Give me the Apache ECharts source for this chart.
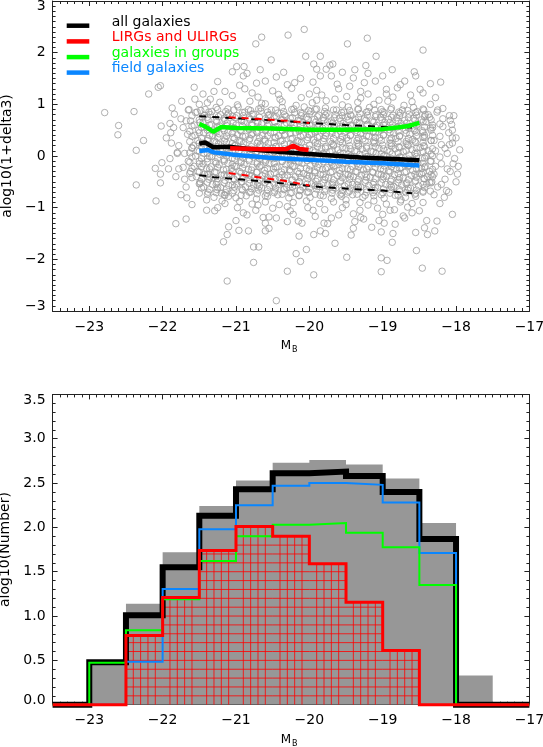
<!DOCTYPE html>
<html>
<head>
<meta charset="utf-8">
<script src="https://cdn.jsdelivr.net/npm/echarts@6/dist/echarts.min.js"></script>
<style>html,body{margin:0;padding:0;background:#fff}#main{width:543px;height:747px}</style>
</head>
<body>
<div id="main"></div>
<script>
var FONT = 'DejaVu Sans';

// ---- top panel: density vs M_B ----
var outlierPts = [
  [-22.79,0.84],[-22.6,0.59],[-22.61,0.41],[-22.39,0.86],[-22.36,0.11],[-22.26,0.3],[-22.36,-0.56],[-22.19,1.2],
  [-22.06,1.33],[-22.03,1.36],[-22.09,-0.87],[-22.02,0.58],[-22.1,-0.24],[-22.03,-0.35],[-22.01,-0.13],[-22.03,-0.52],
  [-21.87,0.93],[-21.84,0.81],[-21.9,0.63],[-21.89,0.45],[-21.82,-1.31],[-21.68,-1.22],[-21.74,1.06],[-21.57,1.33],
  [-21.6,-0.94],[-21.67,-0.81],[-21.78,-0.25],[-21.8,0.07],[-21.65,0.89],[-21.56,1.1],[-21.53,0.85],[-21.39,1.03],
  [-21.25,1.44],[-21.29,-1.06],[-21.12,-2.42],[-21.17,-1.66],[-21.12,-1.52],[-21.1,-1.37],[-21.2,-0.72],[-21.37,-0.35],
  [-21.49,-0.53],[-21.05,1.63],[-20.99,1.73],[-20.89,1.73],[-20.73,2.17],[-20.65,2.3],[-20.52,1.86],[-20.67,1.67],
  [-20.29,2.34],[-20.07,2.45],[-20.05,1.93],[-19.85,1.93],[-19.94,1.78],[-19.9,1.68],[-19.77,1.68],[-19.72,1.76],
  [-19.68,1.78],[-19.48,2.17],[-19.21,2.28],[-19.09,1.93],[-19.38,1.67],[-19.23,1.75],[-18.87,1.67],[-18.57,1.63],
  [-18.45,2.05],[-18.21,1.43],[-18.49,1.29],[-18.28,1.13],[-18.35,1.0],[-18.09,0.78],[-18.03,0.78],[-18.06,0.61],
  [-18.18,0.57],[-18.05,0.35],[-18.2,0.22],[-17.97,-0.2],[-18.04,-0.15],[-18.22,-0.02],[-18.13,-0.67],[-18.22,-0.92],
  [-18.05,-1.13],[-18.26,-1.26],[-18.29,-1.45],[-18.43,-1.39],[-18.39,-1.52],[-18.46,-2.17],[-18.19,-2.23],[-18.55,-1.48],
  [-18.54,-1.83],[-18.87,-1.67],[-19.02,-1.97],[-18.94,-2.02],[-19.02,-2.24],[-18.86,-1.5],[-19.49,-1.96],[-19.43,-1.53],
  [-19.65,-1.69],[-19.94,-2.3],[-20.12,-2.04],[-20.18,-1.89],[-20.3,-2.23],[-20.45,-2.8],[-20.69,-1.76],[-20.76,-1.76],
  [-20.76,-2.06],[-20.83,-1.45],[-20.96,-1.44],[-20.63,-1.19],[-20.3,-1.27],[-20.14,-1.55],[-20.04,-1.81],[-19.94,-1.52],
  [-19.78,-1.5],[-19.26,-1.22],[-19.02,-1.47],[-18.83,-1.32],[-18.5,-1.06],[-18.16,-0.8],[-18.36,-0.51],[-18.47,-0.35],
  [-18.09,0.22],[-18.08,0.69],[-18.25,0.89],[-21.4,-1.05],[-21.19,-0.87],[-20.9,1.55],[-20.35,1.62],[-19.55,1.62],
  [-19.0,1.55],[-18.7,1.45],[-21.3,1.25],[-20.6,-1.45],[-19.4,-1.4],[-18.7,-1.2],[-21.0,-1.25],[-19.8,-1.3]
];
var fringePts = [
  [-21.35,1.1],[-21.15,1.25],[-20.95,1.37],[-20.78,1.22],[-20.6,1.45],[-20.4,1.1],[-20.2,1.42],[-20.0,1.2],
  [-19.85,1.55],[-19.65,1.1],[-19.45,1.35],[-19.3,1.12],[-19.1,1.45],[-18.95,1.2],[-18.8,1.32],[-18.6,1.05],
  [-18.45,1.22],[-18.35,1.4],[-21.5,1.0],[-21.45,1.2],[-20.85,1.6],[-19.2,1.6],[-18.55,1.55],[-20.65,1.02],
  [-19.9,1.08],[-19.05,1.08],
  [-21.4,-0.85],[-21.25,-1.0],[-21.1,-0.78],[-20.9,-1.1],[-20.7,-0.95],[-20.45,-1.2],[-20.3,-0.98],[-20.1,-1.3],
  [-19.95,-1.05],[-19.7,-1.2],[-19.5,-0.85],[-19.4,-1.12],[-19.2,-0.95],[-19.05,-1.25],[-18.9,-1.05],[-18.75,-0.85],
  [-18.6,-1.1],[-18.45,-0.9],[-18.4,-1.25],[-20.55,-1.4],[-19.85,-1.45],[-19.15,-1.38],[-21.5,-0.72],[-18.35,-0.68],
  [-18.3,0.3],[-18.22,0.62],[-18.15,0.15],[-18.12,-0.25],[-18.2,-0.55],[-18.05,0.5],[-17.95,0.12],[-18.1,-0.7],
  [-18.28,-0.2],[-18.18,0.92],[-18.0,0.35],[-17.98,-0.35],
  [-21.72,0.55],[-21.8,0.05],[-21.7,-0.45],[-21.88,0.25],[-21.65,-0.1],[-21.75,-0.75],[-21.68,0.68],[-21.92,-0.25]
];
var corePts = [
  [-20.45,1.53],[-20.12,1.5],[-19.7,1.55],[-19.4,1.51],
  [-20.72,1.41],[-20.3,1.38],[-19.95,1.43],[-19.62,1.39],[-19.25,1.42],[-18.76,1.38],
  [-20.88,1.3],[-20.5,1.26],[-20.24,1.31],[-19.9,1.27],[-19.6,1.3],[-19.3,1.25],[-18.95,1.29],
  [-21.05,1.17],[-20.7,1.14],[-20.42,1.19],[-20.11,1.13],[-19.83,1.18],[-19.49,1.15],[-19.2,1.2],[-18.86,1.14],[-18.62,1.18],
  [-21.22,1.04],[-20.98,0.99],[-20.81,1.06],[-20.6,1.01],[-20.37,1.05],[-20.18,0.98],[-19.96,1.03],[-19.77,1.07],
  [-19.55,0.99],[-19.34,1.04],[-19.12,1.0],[-18.93,1.06],[-18.71,0.98],
  [-21.42,0.9],[-21.27,0.94],[-21.11,0.91],[-20.97,0.95],[-20.83,0.9],[-20.66,0.93],[-20.52,0.89],[-20.37,0.94],
  [-20.21,0.91],[-20.07,0.95],[-19.92,0.9],[-19.78,0.93],[-19.63,0.89],[-19.47,0.95],[-19.33,0.91],[-19.18,0.94],
  [-19.02,0.9],[-18.88,0.93],[-18.73,0.89],[-18.58,0.94],[-18.45,0.91],
  [-21.48,0.88],[-21.37,0.85],[-21.25,0.9],[-21.14,0.86],[-21.03,0.89],[-20.91,0.84],[-20.8,0.88],[-20.69,0.91],
  [-20.57,0.85],[-20.46,0.89],[-20.35,0.86],[-20.24,0.9],[-20.12,0.84],[-20.01,0.88],[-19.9,0.91],[-19.79,0.86],
  [-19.67,0.89],[-19.56,0.84],[-19.45,0.88],[-19.34,0.9],[-19.22,0.85],[-19.11,0.89],[-19.0,0.86],[-18.89,0.9],
  [-18.78,0.85],[-18.66,0.88],[-18.55,0.84],[-18.44,0.89],
  [-21.55,0.84],[-21.43,0.79],[-21.33,0.86],[-21.21,0.8],[-21.1,0.83],[-20.99,0.78],[-20.88,0.85],[-20.76,0.81],
  [-20.66,0.87],[-20.54,0.8],[-20.43,0.83],[-20.32,0.77],[-20.2,0.84],[-20.1,0.82],[-19.98,0.86],[-19.87,0.79],
  [-19.76,0.83],[-19.65,0.8],[-19.53,0.85],[-19.43,0.78],[-19.31,0.82],[-19.2,0.86],[-19.09,0.8],[-18.98,0.84],
  [-18.86,0.79],[-18.76,0.83],[-18.64,0.81],[-18.53,0.86],[-18.42,0.8],
  [-21.6,0.78],[-21.46,0.75],[-21.35,0.8],[-21.24,0.76],[-21.12,0.79],[-21.01,0.74],[-20.9,0.78],[-20.78,0.81],
  [-20.68,0.75],[-20.56,0.79],[-20.45,0.76],[-20.34,0.8],[-20.23,0.74],[-20.11,0.78],[-20.0,0.81],[-19.89,0.76],
  [-19.78,0.79],[-19.66,0.74],[-19.55,0.78],[-19.44,0.8],[-19.33,0.75],[-19.21,0.79],[-19.1,0.76],[-18.99,0.8],
  [-18.88,0.75],[-18.77,0.78],[-18.65,0.74],[-18.54,0.79],[-18.43,0.76],[-18.38,0.8],
  [-21.5,0.7],[-21.39,0.75],[-21.27,0.69],[-21.16,0.73],[-21.05,0.77],[-20.93,0.7],[-20.82,0.74],[-20.71,0.68],
  [-20.6,0.72],[-20.48,0.76],[-20.38,0.7],[-20.26,0.73],[-20.15,0.69],[-20.04,0.75],[-19.93,0.71],[-19.81,0.74],
  [-19.7,0.68],[-19.59,0.73],[-19.48,0.76],[-19.37,0.7],[-19.25,0.72],[-19.14,0.68],[-19.03,0.75],[-18.92,0.71],
  [-18.81,0.74],[-18.7,0.69],[-18.58,0.73],[-18.47,0.7],[-18.36,0.75],
  [-21.62,0.68],[-21.49,0.65],[-21.38,0.7],[-21.26,0.66],[-21.15,0.69],[-21.04,0.64],[-20.92,0.68],[-20.81,0.71],
  [-20.7,0.65],[-20.58,0.69],[-20.47,0.66],[-20.36,0.7],[-20.25,0.64],[-20.13,0.68],[-20.02,0.71],[-19.91,0.66],
  [-19.8,0.69],[-19.68,0.64],[-19.57,0.68],[-19.46,0.7],[-19.35,0.65],[-19.23,0.69],[-19.12,0.66],[-19.01,0.7],
  [-18.9,0.65],[-18.79,0.68],[-18.67,0.64],[-18.56,0.69],[-18.45,0.66],[-18.34,0.7],
  [-21.57,0.6],[-21.45,0.65],[-21.34,0.61],[-21.22,0.58],[-21.12,0.64],[-21.0,0.6],[-20.89,0.66],[-20.78,0.59],
  [-20.65,0.63],[-20.55,0.61],[-20.44,0.57],[-20.31,0.64],[-20.21,0.6],[-20.09,0.65],[-19.99,0.59],[-19.88,0.62],
  [-19.75,0.66],[-19.66,0.6],[-19.54,0.63],[-19.42,0.58],[-19.32,0.64],[-19.21,0.61],[-19.08,0.59],[-18.97,0.65],
  [-18.87,0.6],[-18.75,0.63],[-18.65,0.57],[-18.52,0.62],[-18.41,0.66],
  [-21.6,0.58],[-21.47,0.55],[-21.36,0.6],[-21.25,0.56],[-21.13,0.59],[-21.02,0.54],[-20.91,0.58],[-20.79,0.61],
  [-20.68,0.55],[-20.57,0.59],[-20.46,0.56],[-20.34,0.6],[-20.23,0.54],[-20.12,0.58],[-20.0,0.61],[-19.89,0.56],
  [-19.78,0.59],[-19.67,0.54],[-19.55,0.58],[-19.44,0.6],[-19.33,0.55],[-19.22,0.59],[-19.1,0.56],[-18.99,0.6],
  [-18.88,0.55],[-18.77,0.58],[-18.65,0.54],[-18.54,0.59],[-18.43,0.56],[-18.32,0.6],
  [-21.51,0.5],[-21.4,0.55],[-21.28,0.49],[-21.17,0.53],[-21.06,0.56],[-20.94,0.5],[-20.83,0.54],[-20.72,0.48],
  [-20.59,0.52],[-20.49,0.55],[-20.37,0.49],[-20.27,0.53],[-20.14,0.51],[-20.03,0.56],[-19.92,0.5],[-19.82,0.54],
  [-19.69,0.48],[-19.58,0.53],[-19.47,0.55],[-19.36,0.5],[-19.26,0.52],[-19.13,0.48],[-19.02,0.54],[-18.91,0.51],
  [-18.8,0.56],[-18.69,0.5],[-18.57,0.53],[-18.46,0.49],[-18.35,0.54],
  [-21.63,0.48],[-21.5,0.45],[-21.39,0.5],[-21.27,0.46],[-21.16,0.49],[-21.05,0.44],[-20.93,0.48],[-20.82,0.51],
  [-20.71,0.45],[-20.6,0.49],[-20.48,0.46],[-20.37,0.5],[-20.26,0.44],[-20.14,0.48],[-20.03,0.51],[-19.92,0.46],
  [-19.81,0.49],[-19.69,0.44],[-19.58,0.48],[-19.47,0.5],[-19.35,0.45],[-19.24,0.49],[-19.13,0.46],[-19.02,0.5],
  [-18.9,0.45],[-18.79,0.48],[-18.68,0.44],[-18.56,0.49],[-18.45,0.46],[-18.34,0.5],
  [-21.56,0.4],[-21.44,0.45],[-21.32,0.39],[-21.23,0.43],[-21.11,0.46],[-20.98,0.41],[-20.87,0.38],[-20.77,0.44],
  [-20.64,0.4],[-20.53,0.45],[-20.42,0.39],[-20.33,0.42],[-20.19,0.46],[-20.08,0.4],[-19.97,0.43],[-19.86,0.38],
  [-19.77,0.44],[-19.64,0.41],[-19.52,0.46],[-19.44,0.4],[-19.3,0.43],[-19.19,0.38],[-19.1,0.45],[-18.99,0.41],
  [-18.85,0.44],[-18.77,0.39],[-18.63,0.42],[-18.54,0.46],[-18.43,0.4],
  [-21.6,0.38],[-21.47,0.35],[-21.36,0.4],[-21.25,0.36],[-21.13,0.39],[-21.02,0.34],[-20.91,0.38],[-20.79,0.41],
  [-20.68,0.35],[-20.57,0.39],[-20.46,0.36],[-20.34,0.4],[-20.23,0.34],[-20.12,0.38],[-20.0,0.41],[-19.89,0.36],
  [-19.78,0.39],[-19.67,0.34],[-19.55,0.38],[-19.44,0.4],[-19.33,0.35],[-19.22,0.39],[-19.1,0.36],[-18.99,0.4],
  [-18.88,0.35],[-18.77,0.38],[-18.65,0.34],[-18.54,0.39],[-18.43,0.36],[-18.32,0.4],
  [-21.52,0.3],[-21.38,0.34],[-21.29,0.29],[-21.15,0.33],[-21.04,0.36],[-20.95,0.3],[-20.81,0.34],[-20.7,0.28],
  [-20.61,0.32],[-20.47,0.35],[-20.39,0.29],[-20.25,0.33],[-20.16,0.3],[-20.02,0.36],[-19.94,0.31],[-19.8,0.34],
  [-19.71,0.28],[-19.57,0.32],[-19.49,0.35],[-19.35,0.3],[-19.27,0.33],[-19.12,0.29],[-19.04,0.35],[-18.9,0.31],
  [-18.82,0.34],[-18.68,0.28],[-18.59,0.32],[-18.45,0.36],[-18.34,0.3],
  [-21.63,0.28],[-21.5,0.25],[-21.39,0.3],[-21.27,0.26],[-21.16,0.29],[-21.05,0.24],[-20.93,0.28],[-20.82,0.31],
  [-20.71,0.25],[-20.6,0.29],[-20.48,0.26],[-20.37,0.3],[-20.26,0.24],[-20.14,0.28],[-20.03,0.31],[-19.92,0.26],
  [-19.81,0.29],[-19.69,0.24],[-19.58,0.28],[-19.47,0.3],[-19.35,0.25],[-19.24,0.29],[-19.13,0.26],[-19.02,0.3],
  [-18.9,0.25],[-18.79,0.28],[-18.68,0.24],[-18.56,0.29],[-18.45,0.26],[-18.34,0.3],
  [-21.58,0.2],[-21.46,0.25],[-21.35,0.19],[-21.24,0.23],[-21.13,0.26],[-21.01,0.2],[-20.9,0.24],[-20.79,0.18],
  [-20.67,0.22],[-20.56,0.25],[-20.45,0.19],[-20.34,0.23],[-20.22,0.2],[-20.11,0.26],[-20.0,0.21],[-19.89,0.24],
  [-19.78,0.18],[-19.67,0.22],[-19.55,0.25],[-19.45,0.2],[-19.33,0.23],[-19.22,0.19],[-19.11,0.25],[-19.0,0.21],
  [-18.88,0.24],[-18.78,0.18],[-18.66,0.22],[-18.55,0.26],[-18.44,0.2],
  [-21.6,0.16],[-21.47,0.19],[-21.36,0.15],[-21.25,0.18],[-21.13,0.14],[-21.02,0.2],[-20.91,0.17],[-20.79,0.13],
  [-20.68,0.19],[-20.57,0.16],[-20.46,0.18],[-20.34,0.14],[-20.23,0.2],[-20.12,0.16],[-20.0,0.13],[-19.89,0.18],
  [-19.78,0.15],[-19.67,0.2],[-19.55,0.16],[-19.44,0.14],[-19.33,0.19],[-19.22,0.15],[-19.1,0.18],[-18.99,0.14],
  [-18.88,0.19],[-18.77,0.16],[-18.65,0.2],[-18.54,0.15],[-18.43,0.18],[-18.32,0.14],
  [-21.53,0.1],[-21.41,0.15],[-21.3,0.09],[-21.18,0.13],[-21.07,0.16],[-20.96,0.1],[-20.84,0.14],[-20.73,0.08],
  [-20.62,0.12],[-20.5,0.15],[-20.4,0.09],[-20.28,0.13],[-20.17,0.1],[-20.06,0.16],[-19.95,0.11],[-19.83,0.14],
  [-19.72,0.08],[-19.61,0.12],[-19.5,0.15],[-19.38,0.1],[-19.28,0.13],[-19.16,0.09],[-19.05,0.15],[-18.94,0.11],
  [-18.83,0.14],[-18.72,0.08],[-18.6,0.12],[-18.49,0.16],[-18.38,0.1],
  [-21.63,0.06],[-21.5,0.09],[-21.39,0.05],[-21.27,0.08],[-21.16,0.04],[-21.05,0.1],[-20.93,0.07],[-20.82,0.03],
  [-20.71,0.09],[-20.6,0.06],[-20.48,0.08],[-20.37,0.04],[-20.26,0.1],[-20.14,0.06],[-20.03,0.03],[-19.92,0.08],
  [-19.81,0.05],[-19.69,0.1],[-19.58,0.06],[-19.47,0.04],[-19.35,0.09],[-19.24,0.05],[-19.13,0.08],[-19.02,0.04],
  [-18.9,0.09],[-18.79,0.06],[-18.68,0.1],[-18.56,0.05],[-18.45,0.08],[-18.34,0.04],
  [-21.55,0.0],[-21.44,0.05],[-21.33,-0.01],[-21.22,0.03],[-21.09,0.06],[-20.99,0.0],[-20.88,0.04],[-20.76,-0.02],
  [-20.65,0.02],[-20.54,0.05],[-20.43,-0.01],[-20.31,0.03],[-20.21,0.0],[-20.1,0.06],[-19.98,0.01],[-19.87,0.04],
  [-19.76,-0.02],[-19.64,0.02],[-19.53,0.05],[-19.43,0.0],[-19.31,0.03],[-19.2,-0.01],[-19.09,0.05],[-18.97,0.01],
  [-18.87,0.04],[-18.75,-0.02],[-18.64,0.02],[-18.53,0.06],[-18.41,0.0],
  [-21.6,-0.02],[-21.47,-0.05],[-21.36,-0.01],[-21.25,-0.04],[-21.13,0.0],[-21.02,-0.06],[-20.91,-0.03],[-20.79,0.01],
  [-20.68,-0.05],[-20.57,-0.02],[-20.46,-0.04],[-20.34,0.0],[-20.23,-0.06],[-20.12,-0.02],[-20.0,0.01],[-19.89,-0.04],
  [-19.78,-0.01],[-19.67,-0.06],[-19.55,-0.02],[-19.44,0.0],[-19.33,-0.05],[-19.22,-0.01],[-19.1,-0.04],[-18.99,0.0],
  [-18.88,-0.05],[-18.77,-0.02],[-18.65,-0.06],[-18.54,-0.01],[-18.43,-0.04],[-18.32,0.0],
  [-21.5,-0.1],[-21.39,-0.05],[-21.28,-0.11],[-21.16,-0.07],[-21.05,-0.04],[-20.93,-0.1],[-20.82,-0.06],[-20.71,-0.12],
  [-20.59,-0.08],[-20.49,-0.05],[-20.37,-0.11],[-20.26,-0.07],[-20.15,-0.1],[-20.03,-0.04],[-19.93,-0.09],[-19.81,-0.06],
  [-19.7,-0.12],[-19.59,-0.08],[-19.47,-0.05],[-19.36,-0.1],[-19.25,-0.07],[-19.14,-0.11],[-19.02,-0.05],[-18.92,-0.09],
  [-18.8,-0.06],[-18.69,-0.12],[-18.58,-0.08],[-18.46,-0.04],[-18.35,-0.1],
  [-21.63,-0.12],[-21.5,-0.15],[-21.39,-0.11],[-21.27,-0.14],[-21.16,-0.1],[-21.05,-0.16],[-20.93,-0.13],[-20.82,-0.09],
  [-20.71,-0.15],[-20.6,-0.12],[-20.48,-0.14],[-20.37,-0.1],[-20.26,-0.16],[-20.14,-0.12],[-20.03,-0.09],[-19.92,-0.14],
  [-19.81,-0.11],[-19.69,-0.16],[-19.58,-0.12],[-19.47,-0.1],[-19.35,-0.15],[-19.24,-0.11],[-19.13,-0.14],[-19.02,-0.1],
  [-18.9,-0.15],[-18.79,-0.12],[-18.68,-0.16],[-18.56,-0.11],[-18.45,-0.14],[-18.34,-0.1],
  [-21.57,-0.2],[-21.45,-0.15],[-21.34,-0.21],[-21.23,-0.17],[-21.11,-0.14],[-21.0,-0.2],[-20.89,-0.16],[-20.78,-0.22],
  [-20.66,-0.18],[-20.55,-0.15],[-20.44,-0.21],[-20.32,-0.17],[-20.21,-0.2],[-20.1,-0.14],[-19.99,-0.19],[-19.87,-0.16],
  [-19.76,-0.22],[-19.65,-0.18],[-19.54,-0.15],[-19.42,-0.2],[-19.31,-0.17],[-19.2,-0.21],[-19.08,-0.15],[-18.98,-0.19],
  [-18.86,-0.16],[-18.75,-0.22],[-18.64,-0.18],[-18.52,-0.14],[-18.42,-0.2],
  [-21.6,-0.24],[-21.47,-0.21],[-21.36,-0.25],[-21.25,-0.22],[-21.13,-0.26],[-21.02,-0.2],[-20.91,-0.23],[-20.79,-0.27],
  [-20.68,-0.21],[-20.57,-0.24],[-20.46,-0.22],[-20.34,-0.26],[-20.23,-0.2],[-20.12,-0.24],[-20.0,-0.27],[-19.89,-0.22],
  [-19.78,-0.25],[-19.67,-0.2],[-19.55,-0.24],[-19.44,-0.26],[-19.33,-0.21],[-19.22,-0.25],[-19.1,-0.22],[-18.99,-0.26],
  [-18.88,-0.21],[-18.77,-0.24],[-18.65,-0.2],[-18.54,-0.25],[-18.43,-0.22],[-18.32,-0.26],
  [-21.52,-0.3],[-21.4,-0.25],[-21.29,-0.31],[-21.17,-0.27],[-21.06,-0.24],[-20.95,-0.3],[-20.83,-0.26],[-20.72,-0.32],
  [-20.61,-0.28],[-20.49,-0.25],[-20.38,-0.31],[-20.27,-0.27],[-20.16,-0.3],[-20.04,-0.24],[-19.93,-0.29],[-19.82,-0.26],
  [-19.71,-0.32],[-19.59,-0.28],[-19.48,-0.25],[-19.37,-0.3],[-19.26,-0.27],[-19.14,-0.31],[-19.03,-0.25],[-18.92,-0.29],
  [-18.81,-0.26],[-18.7,-0.32],[-18.59,-0.28],[-18.47,-0.24],[-18.36,-0.3],
  [-21.63,-0.34],[-21.5,-0.31],[-21.39,-0.35],[-21.27,-0.32],[-21.16,-0.36],[-21.05,-0.3],[-20.93,-0.33],[-20.82,-0.37],
  [-20.71,-0.31],[-20.6,-0.34],[-20.48,-0.32],[-20.37,-0.36],[-20.26,-0.3],[-20.14,-0.34],[-20.03,-0.37],[-19.92,-0.32],
  [-19.81,-0.35],[-19.69,-0.3],[-19.58,-0.34],[-19.47,-0.36],[-19.35,-0.31],[-19.24,-0.35],[-19.13,-0.32],[-19.02,-0.36],
  [-18.9,-0.31],[-18.79,-0.34],[-18.68,-0.3],[-18.56,-0.35],[-18.45,-0.32],[-18.34,-0.36],
  [-21.54,-0.4],[-21.43,-0.35],[-21.31,-0.41],[-21.2,-0.37],[-21.09,-0.34],[-20.98,-0.4],[-20.86,-0.36],[-20.75,-0.42],
  [-20.64,-0.38],[-20.53,-0.35],[-20.41,-0.41],[-20.3,-0.37],[-20.19,-0.4],[-20.08,-0.34],[-19.96,-0.39],[-19.85,-0.36],
  [-19.74,-0.42],[-19.62,-0.38],[-19.51,-0.35],[-19.4,-0.4],[-19.29,-0.37],[-19.17,-0.41],[-19.06,-0.35],[-18.95,-0.39],
  [-18.84,-0.36],[-18.72,-0.42],[-18.61,-0.38],[-18.5,-0.34],[-18.39,-0.4],
  [-21.6,-0.42],[-21.47,-0.45],[-21.36,-0.41],[-21.25,-0.44],[-21.13,-0.4],[-21.02,-0.46],[-20.91,-0.43],[-20.79,-0.39],
  [-20.68,-0.45],[-20.57,-0.42],[-20.46,-0.44],[-20.34,-0.4],[-20.23,-0.46],[-20.12,-0.42],[-20.0,-0.39],[-19.89,-0.44],
  [-19.78,-0.41],[-19.67,-0.46],[-19.55,-0.42],[-19.44,-0.4],[-19.33,-0.45],[-19.22,-0.41],[-19.1,-0.44],[-18.99,-0.4],
  [-18.88,-0.45],[-18.77,-0.42],[-18.65,-0.46],[-18.54,-0.41],[-18.43,-0.44],[-18.32,-0.4],
  [-21.49,-0.5],[-21.37,-0.45],[-21.26,-0.51],[-21.15,-0.47],[-21.03,-0.44],[-20.92,-0.5],[-20.81,-0.46],[-20.7,-0.52],
  [-20.58,-0.48],[-20.47,-0.45],[-20.36,-0.51],[-20.24,-0.47],[-20.13,-0.5],[-20.02,-0.44],[-19.91,-0.49],[-19.79,-0.46],
  [-19.68,-0.52],[-19.57,-0.48],[-19.45,-0.45],[-19.34,-0.5],[-19.23,-0.47],[-19.12,-0.51],[-19.0,-0.45],[-18.89,-0.49],
  [-18.78,-0.46],[-18.67,-0.52],[-18.55,-0.48],[-18.44,-0.44],[-18.33,-0.5],
  [-21.5,-0.54],[-21.39,-0.51],[-21.27,-0.55],[-21.16,-0.52],[-21.05,-0.56],[-20.93,-0.5],[-20.82,-0.53],[-20.71,-0.57],
  [-20.6,-0.51],[-20.48,-0.54],[-20.37,-0.52],[-20.26,-0.56],[-20.14,-0.5],[-20.03,-0.54],[-19.92,-0.57],[-19.81,-0.52],
  [-19.69,-0.55],[-19.58,-0.5],[-19.47,-0.54],[-19.35,-0.56],[-19.24,-0.51],[-19.13,-0.55],[-19.02,-0.52],[-18.9,-0.56],
  [-18.79,-0.51],[-18.68,-0.54],[-18.56,-0.5],[-18.45,-0.55],[-18.34,-0.52],
  [-21.44,-0.6],[-21.32,-0.55],[-21.21,-0.61],[-21.1,-0.57],[-20.99,-0.54],[-20.87,-0.6],[-20.76,-0.56],[-20.65,-0.62],
  [-20.54,-0.58],[-20.42,-0.55],[-20.31,-0.61],[-20.2,-0.57],[-20.09,-0.6],[-19.97,-0.54],[-19.86,-0.59],[-19.75,-0.56],
  [-19.64,-0.62],[-19.52,-0.58],[-19.41,-0.55],[-19.3,-0.6],[-19.19,-0.57],[-19.07,-0.61],[-18.96,-0.55],[-18.85,-0.59],
  [-18.74,-0.56],[-18.62,-0.62],[-18.51,-0.58],[-18.4,-0.54],
  [-21.47,-0.62],[-21.36,-0.65],[-21.25,-0.61],[-21.13,-0.64],[-21.02,-0.6],[-20.91,-0.66],[-20.79,-0.63],[-20.68,-0.59],
  [-20.57,-0.65],[-20.46,-0.62],[-20.34,-0.64],[-20.23,-0.6],[-20.12,-0.66],[-20.0,-0.62],[-19.89,-0.59],[-19.78,-0.64],
  [-19.67,-0.61],[-19.55,-0.66],[-19.44,-0.62],[-19.33,-0.6],[-19.22,-0.65],[-19.1,-0.61],[-18.99,-0.64],[-18.88,-0.6],
  [-18.77,-0.65],[-18.65,-0.62],[-18.54,-0.66],[-18.43,-0.61],
  [-21.38,-0.7],[-21.26,-0.65],[-21.14,-0.71],[-21.03,-0.67],[-20.92,-0.64],[-20.8,-0.7],[-20.69,-0.66],[-20.58,-0.72],
  [-20.47,-0.68],[-20.35,-0.65],[-20.24,-0.71],[-20.13,-0.67],[-20.01,-0.7],[-19.9,-0.64],[-19.79,-0.69],[-19.68,-0.66],
  [-19.56,-0.72],[-19.45,-0.68],[-19.34,-0.65],[-19.22,-0.7],[-19.11,-0.67],[-19.0,-0.71],[-18.89,-0.65],[-18.77,-0.69],
  [-18.66,-0.66],[-18.55,-0.72],[-18.45,-0.68],
  [-21.39,-0.74],[-21.27,-0.71],[-21.16,-0.75],[-21.05,-0.72],[-20.93,-0.76],[-20.82,-0.7],[-20.71,-0.73],[-20.6,-0.77],
  [-20.48,-0.71],[-20.37,-0.74],[-20.26,-0.72],[-20.14,-0.76],[-20.03,-0.7],[-19.92,-0.74],[-19.81,-0.77],[-19.69,-0.72],
  [-19.58,-0.75],[-19.47,-0.7],[-19.35,-0.74],[-19.24,-0.76],[-19.13,-0.71],[-19.02,-0.75],[-18.9,-0.72],[-18.79,-0.76],
  [-18.68,-0.71],[-18.56,-0.74],[-18.45,-0.7],
  [-21.3,-0.8],[-21.15,-0.76],[-21.0,-0.81],[-20.86,-0.77],[-20.72,-0.83],[-20.57,-0.78],[-20.43,-0.75],[-20.28,-0.81],
  [-20.14,-0.77],[-19.99,-0.8],[-19.85,-0.76],[-19.7,-0.82],[-19.56,-0.78],[-19.41,-0.75],[-19.27,-0.8],[-19.12,-0.77],
  [-18.98,-0.82],[-18.83,-0.76],[-18.69,-0.8],[-18.55,-0.78],
  [-21.15,-0.92],[-20.95,-0.88],[-20.78,-0.93],[-20.6,-0.89],[-20.41,-0.94],[-20.22,-0.9],[-20.04,-0.87],[-19.86,-0.92],
  [-19.67,-0.89],[-19.5,-0.94],[-19.31,-0.9],[-19.12,-0.87],[-18.95,-0.93],[-18.76,-0.89],[-18.6,-0.92],
  [-20.98,-1.0],[-20.73,-1.05],[-20.5,-1.01],[-20.26,-1.06],[-20.02,-1.0],[-19.79,-1.04],[-19.55,-1.0],[-19.31,-1.05],
  [-19.07,-1.01],[-18.84,-1.04],[-18.66,-0.99],
  [-20.85,-1.14],[-20.55,-1.18],[-20.22,-1.13],[-19.92,-1.17],[-19.6,-1.14],[-19.3,-1.19],[-19.0,-1.13],[-18.72,-1.16],
  [-20.6,-1.3],[-20.15,-1.26],[-19.75,-1.31],[-19.38,-1.27],[-18.98,-1.3],
  [-21.95,0.35],[-21.9,-0.05],[-21.85,0.55],[-21.82,-0.4],[-21.78,0.2],[-21.75,0.72],[-21.72,-0.22],[-21.7,0.05],
  [-21.68,-0.6],[-21.66,0.42],[-21.64,0.9],[-21.62,-0.3],[-21.6,0.15],
  [-18.32,0.55],[-18.3,-0.35],[-18.28,0.1],[-18.25,-0.6],[-18.22,0.38],[-18.2,-0.15],[-18.18,0.72],[-18.15,-0.45],
  [-18.12,0.05],[-18.1,0.45],[-18.08,-0.3],[-18.05,0.25],[-18.02,-0.05],[-18.0,-0.5],[-18.26,0.85],[-18.3,-0.75]
];

var allX = [-21.5,-21.42,-21.31,-21.1,-20.8,-20.5,-20.2,-19.9,-19.6,-19.3,-19.0,-18.7,-18.5];
var allY = [0.24,0.26,0.17,0.18,0.13,0.09,0.06,0.03,0.0,-0.03,-0.05,-0.07,-0.08];
var lirgX = [-21.08,-20.63,-20.31,-20.22,-20.13,-20.01];
var lirgY = [0.15,0.13,0.135,0.2,0.135,0.115];
var groupX = [-21.5,-21.42,-21.31,-21.2,-21.0,-20.5,-20.0,-19.5,-19.0,-18.8,-18.65,-18.5];
var groupY = [0.62,0.57,0.47,0.56,0.54,0.53,0.51,0.51,0.52,0.55,0.58,0.64];
var fieldX = [-21.5,-21.38,-21.3,-21.0,-20.5,-20.0,-19.5,-19.0,-18.5];
var fieldY = [0.095,0.115,0.07,0.02,-0.04,-0.075,-0.11,-0.14,-0.185];
var allHiX = [-21.5,-21.0,-20.5,-20.0,-19.5,-19.0,-18.6];
var allHiY = [0.77,0.73,0.69,0.64,0.6,0.565,0.55];
var allLoX = [-21.5,-21.3,-20.8,-20.3,-19.85,-19.4,-19.0,-18.6];
var allLoY = [-0.37,-0.41,-0.47,-0.54,-0.6,-0.64,-0.67,-0.72];
var lirgHiX = [-21.1,-20.6,-20.3,-20.0];
var lirgHiY = [0.75,0.71,0.68,0.64];
var lirgLoX = [-21.1,-20.7,-20.3,-20.0];
var lirgLoY = [-0.33,-0.41,-0.49,-0.57];

// ---- bottom panel: histograms, bins of 0.5 mag ----
var binEdges = [-23.5,-23,-22.5,-22,-21.5,-21,-20.5,-20,-19.5,-19,-18.5,-18,-17.5,-17];
var histGrey  = [0, 0.45, 1.14, 1.72, 2.24, 2.53, 2.73, 2.76, 2.71, 2.55, 2.05, 0.33, 0];
var histAll   = [0, 0.48, 1.01, 1.55, 2.13, 2.43, 2.61, 2.63, 2.58, 2.40, 1.87, 0, 0];
var histField = [0, 0, 0.485, 1.305, 1.98, 2.25, 2.47, 2.50, 2.48, 2.28, 1.71, 0, 0];
var histGroup = [0, 0.474, 0.84, 1.19, 1.62, 1.90, 2.03, 2.05, 1.94, 1.775, 1.35, 0, 0];
var histLirg  = [0, 0, 0.78, 1.21, 1.74, 2.01, 1.90, 1.59, 1.155, 0.61, 0, 0, 0];

var xMajors = [-23,-22,-21,-20,-19,-18,-17];
var yTopMajors = [-3,-2,-1,0,1,2,3];
var yBotMajors = [0,0.5,1,1.5,2,2.5,3,3.5];

var RED = '#ff0000', GREEN = '#00ff00', BLUE = '#0a86ff', BLACK = '#000000';
var AXC = '#222';

function zip(xs, ys) { return xs.map(function (x, i) { return [x, ys[i]]; }); }
function stepData(vals) {
  return binEdges.map(function (e, i) { return [e, vals[Math.min(i, vals.length - 1)]]; });
}
function minus(v) { return String(v).replace('-', '\u2212'); }

var labelBase = { fontFamily: FONT, fontSize: 14, color: '#000' };

// two axes per side: a major one (long ticks, labels) and a minor one (short ticks)
function axisSet(dim, grid, min, max, step, majors, labelOpt) {
  var sides = dim === 'x' ? ['bottom', 'top'] : ['left', 'right'];
  function major(pos, withLabel) {
    return {
      type: 'value', gridIndex: grid, position: pos, min: min, max: max, interval: step,
      axisLine: { show: true, onZero: false, lineStyle: { color: AXC, width: 1 } },
      axisTick: { show: true, inside: true, length: 5, customValues: majors, lineStyle: { color: AXC } },
      axisLabel: withLabel ? labelOpt : { show: false },
      splitLine: { show: false }
    };
  }
  function minor(pos) {
    return {
      type: 'value', gridIndex: grid, position: pos, min: min, max: max, interval: step,
      axisLine: { show: false, onZero: false },
      axisTick: { show: true, inside: true, length: 3, lineStyle: { color: AXC } },
      axisLabel: { show: false },
      splitLine: { show: false }
    };
  }
  // later axes on an already-used side get flipped to the other side
  return [major(sides[0], true), major(sides[1], false), minor(sides[1]), minor(sides[0])];
}

var xLabel = Object.assign({}, labelBase, {
  customValues: xMajors, margin: 9, formatter: minus, showMinLabel: true, showMaxLabel: true
});
var yTopLabel = Object.assign({}, labelBase, {
  customValues: yTopMajors, margin: 7, showMinLabel: true, showMaxLabel: true,
  formatter: function (v) {
    if (v === 3) return '{t|3}';
    if (v === -3) return '{b|' + minus(v) + '}';
    return minus(v);
  },
  rich: {
    t: Object.assign({ padding: [11, 0, 0, 0] }, labelBase),
    b: Object.assign({ padding: [0, 0, 9, 0] }, labelBase)
  }
});
var yBotLabel = Object.assign({}, labelBase, {
  customValues: yBotMajors, margin: 7, showMinLabel: true, showMaxLabel: true,
  formatter: function (v) {
    var s = v.toFixed(1);
    if (v === 3.5) return '{t|' + s + '}';
    if (v === 0) return '{b|' + s + '}';
    return s;
  },
  rich: {
    t: Object.assign({ padding: [11, 0, 0, 0] }, labelBase),
    b: Object.assign({ padding: [0, 0, 8, 0] }, labelBase)
  }
});

var xAxes = axisSet('x', 0, -23.5, -17, 0.1, xMajors, xLabel)
  .concat(axisSet('x', 1, -23.5, -17, 0.1, xMajors, xLabel));
var yTop = axisSet('y', 0, -3, 3, 0.1, yTopMajors, yTopLabel);
var yBot = axisSet('y', 1, 0, 3.5, 0.1, yBotMajors, yBotLabel);
yTop[0].name = 'alog10(1+delta3)';
yBot[0].name = 'alog10(Number)';
[yTop[0], yBot[0]].forEach(function (a) {
  a.nameLocation = 'middle';
  a.nameRotate = 90;
  a.nameGap = 34;
  a.nameTextStyle = { fontFamily: FONT, fontSize: 14, color: '#000' };
});
var yAxes = yTop.concat(yBot);

function topLine(xs, ys, color, width, dashed) {
  return {
    type: 'line', xAxisIndex: 0, yAxisIndex: 0, data: zip(xs, ys), z: 3,
    showSymbol: false, symbol: 'none', silent: true,
    lineStyle: { color: color, width: width, type: dashed ? [7, 6] : 'solid' }
  };
}
function histLine(vals, color, width) {
  return {
    type: 'line', xAxisIndex: 4, yAxisIndex: 4, data: stepData(vals), step: 'end', z: 5,
    showSymbol: false, symbol: 'none', silent: true, clip: false,
    lineStyle: { color: color, width: width, join: 'miter' }
  };
}

// red hatch: grid lines every 0.1 in both axes inside each LIRG bin
var hatchData = [];
histLirg.forEach(function (h, i) {
  if (h > 0) hatchData.push([binEdges[i], binEdges[i + 1], h]);
});

var chart = echarts.init(document.getElementById('main'));
var option = {
  animation: false,
  backgroundColor: '#fff',
  grid: [
    { left: 52.6, right: 13.6, top: 1, height: 310, outerBoundsMode: 'none' },
    { left: 52.6, right: 13.6, top: 394.4, height: 310.3, outerBoundsMode: 'none' }
  ],
  xAxis: xAxes,
  yAxis: yAxes,
  series: [
    {
      type: 'scatter', xAxisIndex: 0, yAxisIndex: 0, silent: true, z: 2,
      data: outlierPts.concat(fringePts, corePts), symbol: 'circle', symbolSize: 6.5,
      itemStyle: { color: 'rgba(0,0,0,0)', borderColor: '#9c9c9c', borderWidth: 1 }
    },
    topLine(allHiX, allHiY, BLACK, 2, true),
    topLine(allLoX, allLoY, BLACK, 2, true),
    topLine(lirgHiX, lirgHiY, RED, 2, true),
    topLine(lirgLoX, lirgLoY, RED, 2, true),
    topLine(groupX, groupY, GREEN, 4.5),
    topLine(fieldX, fieldY, BLUE, 4.5),
    topLine(allX, allY, BLACK, 4.5),
    topLine(lirgX, lirgY, RED, 4.5),
    {
      type: 'line', xAxisIndex: 4, yAxisIndex: 4, data: stepData(histGrey), step: 'end', z: 1,
      showSymbol: false, symbol: 'none', silent: true,
      lineStyle: { width: 0 }, areaStyle: { color: '#979797', opacity: 1 }
    },
    {
      type: 'custom', coordinateSystem: 'cartesian2d', xAxisIndex: 4, yAxisIndex: 4,
      silent: true, z: 4, data: hatchData,
      encode: { x: [0, 1], y: 2 },
      renderItem: function (params, api) {
        var x0 = api.value(0), x1 = api.value(1), h = api.value(2);
        var kids = [];
        var st = { stroke: 'rgba(255,0,0,0.8)', lineWidth: 1, fill: null };
        for (var k = Math.round(x0 * 10) + 1; k < Math.round(x1 * 10); k++) {
          var a = api.coord([k / 10, 0]), b = api.coord([k / 10, h]);
          kids.push({ type: 'line', shape: { x1: a[0], y1: a[1], x2: b[0], y2: b[1] }, style: st });
        }
        for (var j = 1; j / 10 < h; j++) {
          var c = api.coord([x0, j / 10]), d = api.coord([x1, j / 10]);
          kids.push({ type: 'line', shape: { x1: c[0], y1: c[1], x2: d[0], y2: d[1] }, style: st });
        }
        return { type: 'group', children: kids };
      }
    },
    histLine(histAll, BLACK, 6),
    histLine(histField, BLUE, 2),
    histLine(histGroup, GREEN, 2),
    histLine(histLirg, RED, 3)
  ],
  graphic: [
    { type: 'line', shape: { x1: 66.7, y1: 25.7, x2: 89.3, y2: 25.7 }, style: { stroke: BLACK, lineWidth: 4.5 } },
    { type: 'line', shape: { x1: 66.7, y1: 41.4, x2: 89.3, y2: 41.4 }, style: { stroke: RED, lineWidth: 4.5 } },
    { type: 'line', shape: { x1: 66.7, y1: 57.1, x2: 89.3, y2: 57.1 }, style: { stroke: GREEN, lineWidth: 4.5 } },
    { type: 'line', shape: { x1: 66.7, y1: 72.6, x2: 89.3, y2: 72.6 }, style: { stroke: BLUE, lineWidth: 4.5 } },
    { type: 'text', x: 111.7, y: 22, style: { text: 'all galaxies', fill: BLACK, font: '14px "DejaVu Sans"', verticalAlign: 'middle' } },
    { type: 'text', x: 111.7, y: 37.5, style: { text: 'LIRGs and ULIRGs', fill: RED, font: '14px "DejaVu Sans"', verticalAlign: 'middle' } },
    { type: 'text', x: 111.7, y: 53, style: { text: 'galaxies in groups', fill: GREEN, font: '14px "DejaVu Sans"', verticalAlign: 'middle' } },
    { type: 'text', x: 111.7, y: 68.5, style: { text: 'field galaxies', fill: BLUE, font: '14px "DejaVu Sans"', verticalAlign: 'middle' } },
    { type: 'text', x: 291, y: 346, style: { text: 'M', fill: '#000', font: '12px "DejaVu Sans"', align: 'right', verticalAlign: 'middle' } },
    { type: 'text', x: 292, y: 350, style: { text: 'B', fill: '#000', font: '8px "DejaVu Sans"', align: 'left', verticalAlign: 'middle' } },
    { type: 'text', x: 291, y: 740, style: { text: 'M', fill: '#000', font: '12px "DejaVu Sans"', align: 'right', verticalAlign: 'middle' } },
    { type: 'text', x: 292, y: 744, style: { text: 'B', fill: '#000', font: '8px "DejaVu Sans"', align: 'left', verticalAlign: 'middle' } }
  ]
};
chart.setOption(option);
</script>
</body>
</html>
